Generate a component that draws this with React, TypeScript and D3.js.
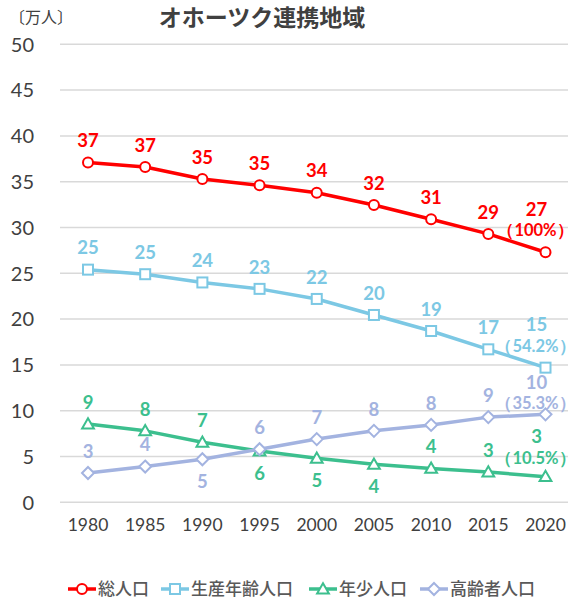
import React from 'react';
import * as d3 from 'd3';

const years = [1980, 1985, 1990, 1995, 2000, 2005, 2010, 2015, 2020];
const totalPop = [37.1, 36.6, 35.3, 34.6, 33.8, 32.45, 30.9, 29.3, 27.3];
const workingPop = [25.4, 24.9, 24.0, 23.3, 22.2, 20.45, 18.7, 16.7, 14.7];
const youngPop = [8.55, 7.8, 6.55, 5.6, 4.8, 4.15, 3.7, 3.3, 2.8];
const elderlyPop = [3.2, 3.9, 4.7, 5.8, 6.9, 7.8, 8.45, 9.3, 9.6];
const shares = ['100%', '54.2%', '10.5%', '35.3%'];
const seriesNames = ['総人口', '生産年齢人口', '年少人口', '高齢者人口'];
const yTicks = [0, 5, 10, 15, 20, 25, 30, 35, 40, 45, 50];

// which labels sit under the marker (everything else goes above)
const youngBelow = [1995, 2000, 2005];
const elderlyBelow = [1990];

const W = 577;
const H = 599;
const left = 60;
const right = 568;
const fontNum = 'Lato, "Noto Sans", sans-serif';
const fontJp = '"Noto Sans CJK JP", sans-serif';

type Shape = 'circle' | 'square' | 'triangle' | 'diamond';

const series = [
  { name: seriesNames[0], values: totalPop, color: '#ff0000', shape: 'circle' as Shape, below: [] as number[], lastDy: -43 },
  { name: seriesNames[1], values: workingPop, color: '#7cc8e4', shape: 'square' as Shape, below: [] as number[], lastDy: -43 },
  { name: seriesNames[2], values: youngPop, color: '#3cbf8e', shape: 'triangle' as Shape, below: youngBelow, lastDy: -40 },
  { name: seriesNames[3], values: elderlyPop, color: '#a3b3e0', shape: 'diamond' as Shape, below: elderlyBelow, lastDy: -32 },
];

const Marker: React.FC<{ shape: Shape; x: number; y: number; color: string }> = ({ shape, x, y, color }) => {
  const common = { fill: '#fff', stroke: color, strokeWidth: 2 };
  if (shape === 'circle') return <circle cx={x} cy={y} r={5} {...common} />;
  if (shape === 'square') return <rect x={x - 5} y={y - 5} width={10} height={10} {...common} />;
  if (shape === 'triangle') {
    const p = d3.symbol(d3.symbolTriangle, 60)()!;
    return <path d={p} transform={`translate(${x},${y + 1})`} {...common} />;
  }
  return <path d={`M0,-6L6,0L0,6L-6,0Z`} transform={`translate(${x},${y})`} {...common} />;
};

const App: React.FC = () => {
  const x = d3.scaleLinear().domain([1980, 2020]).range([88, 545.5]);
  const y = d3.scaleLinear().domain([0, 50]).range([502.3, 44.3]);

  const line = d3
    .line<number>()
    .x((_, i) => x(years[i]))
    .y((d) => y(d));

  // legend layout
  const legendItems = [
    { x: 68, textX: 98 },
    { x: 161, textX: 191 },
    { x: 309, textX: 339 },
    { x: 420, textX: 450 },
  ];

  return (
    <svg width={W} height={H} style={{ position: 'absolute', left: 0, top: 0, background: '#fff' }}>
      {/* unit + title */}
      <text x={9} y={23} fontSize={16} fill="#404040" fontFamily={fontJp}>〔万人〕</text>
      <text x={262} y={26} fontSize={23} fontWeight="bold" fill="#404040" textAnchor="middle" fontFamily={fontJp}>
        オホーツク連携地域
      </text>

      {/* grid */}
      {yTicks.map((t) => (
        <g key={t}>
          <line x1={left} x2={right} y1={y(t)} y2={y(t)} stroke="#d9d9d9" strokeWidth={1.5} />
          <text x={34} y={y(t)} dy="0.36em" textAnchor="end" fontSize={20} fill="#404040" fontFamily={fontNum}>
            {t}
          </text>
        </g>
      ))}
      {years.map((yr) => (
        <text key={yr} x={x(yr)} y={525} dy="0.36em" textAnchor="middle" fontSize={17.5} fill="#404040" fontFamily={fontNum}>
          {yr}
        </text>
      ))}

      {/* series */}
      {series.map((s) => (
        <g key={s.name}>
          <path d={line(s.values)!} fill="none" stroke={s.color} strokeWidth={3.5} strokeLinejoin="round" />
          {s.values.map((v, i) => (
            <Marker key={i} shape={s.shape} x={x(years[i])} y={y(v)} color={s.color} />
          ))}
        </g>
      ))}

      {/* data labels */}
      {series.map((s, si) =>
        s.values.map((v, i) => {
          const last = i === years.length - 1;
          const below = s.below.includes(years[i]);
          const lx = last ? x(years[i]) - 9 : x(years[i]);
          const ly = last ? y(v) + s.lastDy : below ? y(v) + 22 : y(v) - 22;
          return (
            <g key={`${si}-${i}`}>
              <text x={lx} y={ly} dy="0.36em" textAnchor="middle" fontSize={18.5} fontWeight="bold" fill={s.color} fontFamily={fontNum}>
                {Math.round(v)}
              </text>
              {last && (
                <text x={lx - 1} y={ly + 21} dy="0.36em" textAnchor="middle" fontSize={16.5} fontWeight="bold" fill={s.color} fontFamily={fontNum}>
                  （{shares[si]}）
                </text>
              )}
            </g>
          );
        })
      )}

      {/* legend */}
      {series.map((s, i) => {
        const it = legendItems[i];
        const cy = 589;
        return (
          <g key={s.name}>
            <line x1={it.x} x2={it.x + 28} y1={cy} y2={cy} stroke={s.color} strokeWidth={3.5} />
            <Marker shape={s.shape} x={it.x + 14} y={cy} color={s.color} />
            <text x={it.textX} y={cy} dy="0.36em" fontSize={17} fontWeight={500} fill="#595959" fontFamily={fontJp}>
              {s.name}
            </text>
          </g>
        );
      })}
    </svg>
  );
};

export default App;
